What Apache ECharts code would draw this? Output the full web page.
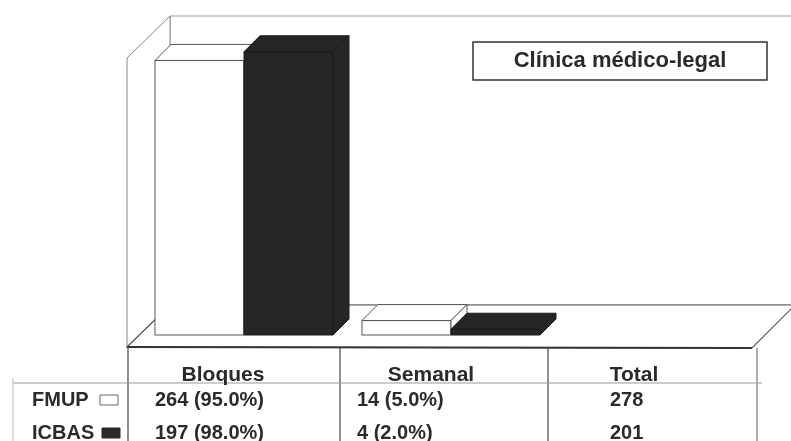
<!DOCTYPE html>
<html>
<head>
<meta charset="utf-8">
<title>Clínica médico-legal</title>
<script src="https://cdn.jsdelivr.net/npm/echarts@6/dist/echarts.min.js"></script>
<style>
  html, body { margin: 0; padding: 0; background: #fff; }
  #chart { width: 791px; height: 441px; }
</style>
</head>
<body>
<div id="chart"></div>
<script>
// Categories shown in the data table; only the first two carry bars
const categories = ['Bloques', 'Semanal', 'Total'];
const seriesNames = ['FMUP', 'ICBAS'];

// Counts per regime (last entry is the total)
const fmupCounts = [264, 14, 278];
const icbasCounts = [197, 4, 201];

// Share of each regime, in percent (bar heights)
const fmupPct = [95.0, 5.0];
const icbasPct = [98.0, 2.0];

const chartTitle = 'Clínica médico-legal';

// ---- layout of the pseudo-3D box ----
const FONT = '"Liberation Sans", Arial, sans-serif';
const gridLeft = 140.5, gridWidth = 621, gridTop = 46, gridBottomY = 335;
const depth = 16;            // bar depth (px, drawn at 45°)
const boxFront = 13.5;       // floor front edge in front of the bar plane
const boxBack = 29.5;        // back wall behind the bar plane

const chart = echarts.init(document.getElementById('chart'), null, { renderer: 'canvas' });

function makeBar(side, fill, stroke) {
  return function (params, api) {
    const cat = api.value(0);
    const val = api.value(1);
    const base = api.coord([cat, 0]);
    const top = api.coord([cat, val]);
    const band = api.size([1, 0])[0];
    const w = band * 0.43;
    const x0 = side < 0 ? base[0] - w : base[0];
    const x1 = x0 + w;
    const y0 = base[1], y1 = top[1];
    const style = { fill: fill, stroke: stroke, lineWidth: 1 };
    return {
      type: 'group',
      children: [
        { type: 'polygon', shape: { points: [[x0, y0], [x1, y0], [x1, y1], [x0, y1]] }, style: style },
        { type: 'polygon', shape: { points: [[x0, y1], [x1, y1], [x1 + depth, y1 - depth], [x0 + depth, y1 - depth]] }, style: style },
        { type: 'polygon', shape: { points: [[x1, y0], [x1 + depth, y0 - depth], [x1 + depth, y1 - depth], [x1, y1]] }, style: style }
      ]
    };
  };
}

// ---- frame (walls and floor) ----
const fx0 = gridLeft - boxFront, fy0 = gridBottomY + 12;              // front-left floor corner
const bx0 = gridLeft + boxBack, by0 = gridBottomY - 30;               // back-left floor corner
const wallH = gridBottomY - gridTop;                                  // 100 % height
const frontRight = 752;
const backRight = 800;

const frame = [
  // back wall
  { type: 'polygon', z: 0, shape: { points: [[bx0, by0 - wallH], [backRight, by0 - wallH], [backRight, by0], [bx0, by0]] },
    style: { fill: '#fff', stroke: '#999', lineWidth: 1 } },
  // left wall
  { type: 'polygon', z: 0, shape: { points: [[fx0, fy0], [fx0, fy0 - wallH], [bx0, by0 - wallH], [bx0, by0]] },
    style: { fill: '#fff', stroke: '#888', lineWidth: 1 } },
  // floor
  { type: 'polygon', z: 0, shape: { points: [[fx0, fy0], [frontRight, fy0 + 1], [frontRight + (bx0 - fx0), by0], [bx0, by0]] },
    style: { fill: '#fff', stroke: '#555', lineWidth: 1.2 } },
  { type: 'line', z: 0, shape: { x1: fx0, y1: fy0, x2: frontRight, y2: fy0 + 1 }, style: { stroke: '#333', lineWidth: 2 } }
];

// ---- data table below the floor ----
const colLines = [128, 340, 548, 757];
const headerX = [223, 431, 634];
const valueX = [155, 357, 610];
const rowY = [400, 433];
const table = [];

colLines.forEach(function (x, i) {
  table.push({ type: 'line', z: 1, shape: { x1: x, y1: fy0 + (i === 3 ? 1 : 0), x2: x, y2: 441 },
    style: { stroke: i === 3 ? '#777' : '#444', lineWidth: 1.2 } });
});
table.push({ type: 'line', z: 1, shape: { x1: 13, y1: 383, x2: 762, y2: 383 }, style: { stroke: '#999', lineWidth: 1 } });
table.push({ type: 'line', z: 1, shape: { x1: 13, y1: 378, x2: 13, y2: 441 }, style: { stroke: '#bbb', lineWidth: 1 } });

categories.forEach(function (c, i) {
  table.push({ type: 'text', z: 3, style: { text: c, x: headerX[i], y: 375, align: 'center', verticalAlign: 'middle',
    font: 'bold 21px ' + FONT, fill: '#2a2a2a' } });
});

const rows = [
  { name: seriesNames[0], counts: fmupCounts, pct: fmupPct, swatch: { x: 100, y: 395, w: 18, h: 10, fill: '#fff', stroke: '#666' } },
  { name: seriesNames[1], counts: icbasCounts, pct: icbasPct, swatch: { x: 102, y: 428, w: 18, h: 10, fill: '#2a2a2a', stroke: '#2a2a2a' } }
];
rows.forEach(function (r, ri) {
  const y = rowY[ri];
  table.push({ type: 'text', z: 3, style: { text: r.name, x: 32, y: y, align: 'left', verticalAlign: 'middle',
    font: 'bold 20px ' + FONT, fill: '#2a2a2a' } });
  table.push({ type: 'rect', z: 3, shape: { x: r.swatch.x, y: r.swatch.y, width: r.swatch.w, height: r.swatch.h },
    style: { fill: r.swatch.fill, stroke: r.swatch.stroke, lineWidth: 1 } });
  r.counts.forEach(function (n, ci) {
    const label = ci < r.pct.length ? n + ' (' + r.pct[ci].toFixed(1) + '%)' : String(n);
    table.push({ type: 'text', z: 3, style: { text: label, x: valueX[ci], y: y, align: 'left', verticalAlign: 'middle',
      font: 'bold 20px ' + FONT, fill: '#2a2a2a' } });
  });
});

// ---- title box ----
const titleBox = [
  { type: 'rect', z: 5, shape: { x: 473, y: 42, width: 294, height: 38 }, style: { fill: '#fff', stroke: '#333', lineWidth: 1.5 } },
  { type: 'text', z: 6, style: { text: chartTitle, x: 620, y: 61, align: 'center', verticalAlign: 'middle',
    font: 'bold 22px ' + FONT, fill: '#2a2a2a' } }
];

chart.setOption({
  animation: false,
  backgroundColor: '#fff',
  grid: { left: gridLeft, top: gridTop, width: gridWidth, height: gridBottomY - gridTop, containLabel: false },
  xAxis: { type: 'category', data: categories, show: false },
  yAxis: { type: 'value', min: 0, max: 100, show: false },
  graphic: { elements: frame.concat(table, titleBox) },
  series: [
    { name: seriesNames[0], type: 'custom', z: 3, renderItem: makeBar(-1, '#ffffff', '#555'),
      data: fmupPct.map(function (v, i) { return [i, v]; }) },
    { name: seriesNames[1], type: 'custom', z: 4, renderItem: makeBar(1, '#262626', '#1a1a1a'),
      data: icbasPct.map(function (v, i) { return [i, v]; }) }
  ]
});
</script>
</body>
</html>
